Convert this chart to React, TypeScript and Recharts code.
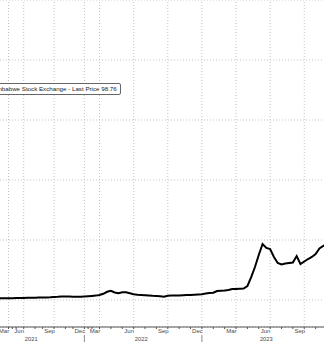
import { CartesianGrid, Line, LineChart, ReferenceLine, XAxis, YAxis } from "recharts";

const dates = [
  "2021-01-21", "2021-02-01", "2021-02-11", "2021-02-21", "2021-03-01", "2021-03-11", "2021-03-21",
  "2021-04-01", "2021-05-01", "2021-06-01", "2021-06-15",
  "2021-07-01", "2021-07-11", "2021-07-21", "2021-08-01", "2021-08-16", "2021-09-01", "2021-09-11", "2021-09-21",
  "2021-10-01", "2021-10-11", "2021-10-21", "2021-11-01", "2021-11-16", "2021-12-01", "2021-12-11", "2021-12-21",
  "2022-01-01", "2022-02-01", "2022-03-01", "2022-03-16",
  "2022-04-01", "2022-04-11", "2022-04-21", "2022-05-01", "2022-05-11", "2022-05-21", "2022-06-01", "2022-06-11", "2022-06-21",
  "2022-07-01", "2022-07-11", "2022-07-21", "2022-08-01", "2022-08-11", "2022-08-21", "2022-09-01", "2022-09-11", "2022-09-21",
  "2022-10-01", "2022-10-11", "2022-10-21", "2022-11-01", "2022-11-11", "2022-11-21", "2022-12-01", "2022-12-11", "2022-12-21",
  "2023-01-01", "2023-01-11", "2023-01-21", "2023-02-01", "2023-02-11", "2023-02-21", "2023-03-01", "2023-03-11", "2023-03-21",
  "2023-04-01", "2023-04-11", "2023-04-21", "2023-05-01", "2023-05-11", "2023-05-21", "2023-06-01", "2023-06-11", "2023-06-21",
  "2023-07-01", "2023-07-11", "2023-07-21", "2023-08-01", "2023-08-11", "2023-08-21", "2023-09-01", "2023-09-11", "2023-09-21",
  "2023-10-01", "2023-10-11", "2023-10-21", "2023-11-01", "2023-11-11", "2023-11-21", "2023-12-01",
];

const price = [
  2.5, 2.5, 2.5, 2.7, 2.7, 2.8, 2.8,
  3.0, 3.0, 3.3, 3.3,
  3.5, 3.7, 3.7, 3.8, 4.0, 4.2, 4.3, 4.5,
  5.0, 5.3, 5.8, 6.0, 5.7, 5.3, 5.5, 5.3,
  5.7, 6.2, 6.7, 7.3,
  8.3, 10.3, 13.7, 15.3, 12.5, 11.3, 12.8, 13.0, 11.3,
  9.7, 8.7, 8.3, 8.0, 7.5, 7.0, 6.7, 6.2, 5.3,
  7.0, 7.5, 7.7, 7.7, 8.0, 8.3, 8.5, 8.8, 9.2,
  9.7, 10.7, 11.7, 12.2, 15.0, 15.5, 15.8, 16.7, 18.3,
  18.3, 18.7, 19.0, 23.3, 38.3, 55.0, 75.0, 93.3, 86.7,
  85.0, 71.7, 61.7, 59.2, 60.8, 61.7, 62.5, 73.3, 60.0,
  64.2, 68.3, 71.7, 76.7, 85.8, 90.0, 92.5,
];

const seriesName = "Zimbabwe Stock Exchange";
const lastPrice = 98.76;

// gridlines sit on quarter boundaries, label names the month just before
const quarterStarts = [
  "2021-04-01", "2021-07-01", "2021-10-01", "2022-01-01", "2022-04-01", "2022-07-01",
  "2022-10-01", "2023-01-01", "2023-04-01", "2023-07-01", "2023-10-01",
];
const quarterLabels = ["Mar", "Jun", "Sep", "Dec", "Mar", "Jun", "Sep", "Dec", "Mar", "Jun", "Sep"];

const yearBreaks = ["2022-01-01", "2023-01-01"];
const yearLabelDates = ["2021-07-21", "2022-07-21", "2023-06-21"];
const yearLabels = ["2021", "2022", "2023"];

const yTicks = [0, 100, 200, 300, 400];

const data = dates.map((date, i) => ({ date, price: price[i] }));
const monthTicks = dates.filter((d) => d.endsWith("-01"));
const yearTicks = [...yearBreaks, ...yearLabelDates];

const FONT = "'Liberation Sans', Arial, sans-serif";

function MonthTick({ x, y, payload }: any) {
  const i = quarterStarts.indexOf(payload.value);
  if (i < 0) return <g />;
  return (
    <text x={x - 4.5} y={y} dy={2.2} textAnchor="middle" fontSize={6} fill="#4a4a4a" fontFamily={FONT}>
      {quarterLabels[i]}
    </text>
  );
}

function YearTick({ x, y, payload }: any) {
  if (yearBreaks.includes(payload.value)) {
    return <line x1={x} x2={x} y1={y} y2={y + 7} stroke="#888" strokeWidth={1} />;
  }
  const i = yearLabelDates.indexOf(payload.value);
  if (i < 0) return <g />;
  return (
    <text x={x} y={y} dy={6.2} textAnchor="middle" fontSize={5.8} fill="#4a4a4a" fontFamily={FONT}>
      {yearLabels[i]}
    </text>
  );
}

export default function App() {
  return (
    <div
      style={{
        position: "fixed",
        left: 0,
        top: 0,
        width: 324,
        height: 342,
        overflow: "hidden",
        background: "#fff",
      }}
    >
      <div style={{ position: "absolute", left: -18, top: 0 }}>
        <LineChart width={345} height={342} data={data} margin={{ top: 0, right: 0, bottom: 0, left: 0 }}>
          <CartesianGrid xAxisId="m" vertical={false} stroke="#c4c4c4" strokeDasharray="1 2" />
          <XAxis
            xAxisId="m"
            dataKey="date"
            type="category"
            ticks={monthTicks}
            interval={0}
            height={8}
            tickSize={2}
            tickMargin={2}
            axisLine={{ stroke: "#555" }}
            tickLine={{ stroke: "#555" }}
            tick={<MonthTick />}
          />
          <XAxis
            xAxisId="y"
            dataKey="date"
            type="category"
            ticks={yearTicks}
            interval={0}
            height={7}
            tickSize={0}
            tickMargin={0}
            axisLine={false}
            tickLine={false}
            tick={<YearTick />}
          />
          <YAxis hide domain={[-45, 500]} ticks={yTicks} />
          {quarterStarts.map((d) => (
            <ReferenceLine key={d} xAxisId="m" x={d} stroke="#c4c4c4" strokeDasharray="1 2" />
          ))}
          <Line
            xAxisId="m"
            type="linear"
            dataKey="price"
            name={seriesName}
            stroke="#000"
            strokeWidth={2}
            dot={false}
            activeDot={false}
            isAnimationActive={false}
          />
        </LineChart>
      </div>
      <div
        style={{
          position: "absolute",
          left: -12.5,
          top: 83,
          height: 10,
          lineHeight: "10px",
          padding: "0 3px",
          border: "1px solid #666",
          borderRadius: 2,
          background: "#fff",
          fontFamily: FONT,
          fontSize: 6.2,
          color: "#222",
          whiteSpace: "nowrap",
        }}
      >
        {seriesName} - Last Price {lastPrice}
      </div>
    </div>
  );
}
